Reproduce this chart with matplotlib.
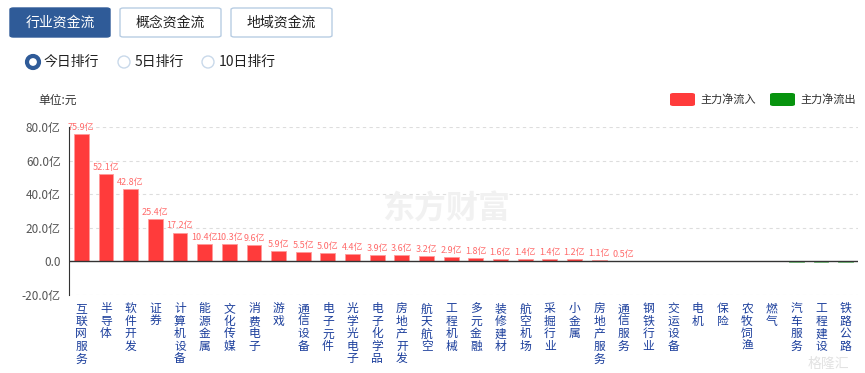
import matplotlib.pyplot as plt
from matplotlib.patches import FancyBboxPatch, Ellipse

plt.rcParams['font.family'] = ['Noto Sans CJK SC', 'DejaVu Sans']

industries = ["互联网服务", "半导体", "软件开发", "证券", "计算机设备", "能源金属", "文化传媒",
              "消费电子", "游戏", "通信设备", "电子元件", "光学光电子", "电子化学品", "房地产开发",
              "航天航空", "工程机械", "多元金融", "装修建材", "航空机场", "采掘行业", "小金属",
              "房地产服务", "通信服务", "钢铁行业", "交运设备", "电机", "保险", "农牧饲渔",
              "燃气", "汽车服务", "工程建设", "铁路公路"]
net_flow = [75.9, 52.1, 42.8, 25.4, 17.2, 10.4, 10.3, 9.6, 5.9, 5.5, 5.0, 4.4, 3.9, 3.6,
            3.2, 2.9, 1.8, 1.6, 1.4, 1.4, 1.2, 1.1, 0.5, 0.3, 0.2, 0.15, 0.1, 0.05,
            -0.05, -0.1, -0.15, -0.2]
yticks = [-20, 0, 20, 40, 60, 80]

W, H = 865, 373
fig = plt.figure(figsize=(W / 100, H / 100), dpi=100)


def fx(x):
    return x / W


def fy(y):
    return 1 - y / H


# top buttons
buttons = [("行业资金流", 10, 110, True), ("概念资金流", 120, 221, False), ("地域资金流", 231, 332, False)]
for txt, x0, x1, active in buttons:
    box = FancyBboxPatch((fx(x0), fy(37)), fx(x1 - x0), 29 / H,
                         boxstyle="round,pad=0,rounding_size=0.004",
                         transform=fig.transFigure,
                         facecolor="#2f5b98" if active else "white",
                         edgecolor="#2f5b98" if active else "#b8cde3", linewidth=1)
    fig.add_artist(box)
    fig.text(fx((x0 + x1) / 2), fy(22.5), txt, ha="center", va="center", fontsize=10,
             color="white" if active else "#222222")

# radio options
radios = [("今日排行", 33, True), ("5日排行", 124, False), ("10日排行", 208, False)]
for txt, cx, on in radios:
    c = Ellipse((fx(cx), fy(62)), 12 / W, 12 / H, transform=fig.transFigure,
                facecolor="white", edgecolor="#2f5b98" if on else "#c9d9ea",
                linewidth=3 if on else 1)
    fig.add_artist(c)
    fig.text(fx(cx + 11), fy(62), txt, ha="left", va="center", fontsize=10, color="#222222")

fig.text(fx(38), fy(100), "单位:元", ha="left", va="center", fontsize=8.5, color="#333333")

# legend
for x0, col, txt in [(670, "#ff3b3b", "主力净流入"), (770, "#07930e", "主力净流出")]:
    r = FancyBboxPatch((fx(x0), fy(106)), fx(25), 13 / H,
                       boxstyle="round,pad=0,rounding_size=0.004",
                       transform=fig.transFigure, facecolor=col, edgecolor="none")
    fig.add_artist(r)
    fig.text(fx(x0 + 30), fy(99.5), txt, ha="left", va="center", fontsize=8, color="#333333")

# watermark behind the chart
fig.text(fx(446), fy(210), "东方财富", ha="center", va="center", fontsize=23,
         fontweight="bold", color="#f1f1f1", zorder=0)

ax = fig.add_axes([fx(69), fy(295), fx(858 - 69), (295 - 127) / H])
ax.patch.set_alpha(0)
x = list(range(len(net_flow)))
colors = ["#ff3b3b" if v >= 0 else "#07930e" for v in net_flow]
edges = ["#ff9a9a" if v >= 0 else "#7fc784" for v in net_flow]
ax.bar(x, net_flow, width=0.6, color=colors, edgecolor=edges, linewidth=0.6)

for i, v in enumerate(net_flow):
    if v >= 0.5:
        ax.text(i, v + 1.2, f"{v:.1f}亿", ha="center", va="bottom", fontsize=6.5,
                color="#ff6b6b")

ax.set_xlim(-0.5, len(net_flow) - 0.5)
ax.set_ylim(-20, 80)
ax.set_yticks(yticks)
ax.set_yticklabels([("0.0" if t == 0 else f"{t:.1f}亿") for t in yticks],
                   fontsize=8.5, color="#555555")
ax.tick_params(axis="y", length=0, pad=6)
ax.tick_params(axis="x", length=0)
ax.set_xticks(x)
ax.set_xticklabels(["\n".join(n) for n in industries], fontsize=8.5, color="#1c3f9c",
                   va="top", linespacing=0.95)
for lbl in ax.get_xticklabels():
    lbl.set_y(-0.015)

for t in [80, 60, 40, 20, -20]:
    ax.axhline(t, color="#dddddd", linestyle=(0, (3, 3)), linewidth=0.8, zorder=0)
ax.axhline(0, color="#333333", linewidth=1, zorder=3)
for s in ["top", "right", "bottom"]:
    ax.spines[s].set_visible(False)
ax.spines["left"].set_color("#333333")

fig.text(fx(828), fy(364), "格隆汇", ha="center", va="center", fontsize=10,
         color="#e2e2e2", zorder=5)

fig.savefig("out.png", dpi=100)
